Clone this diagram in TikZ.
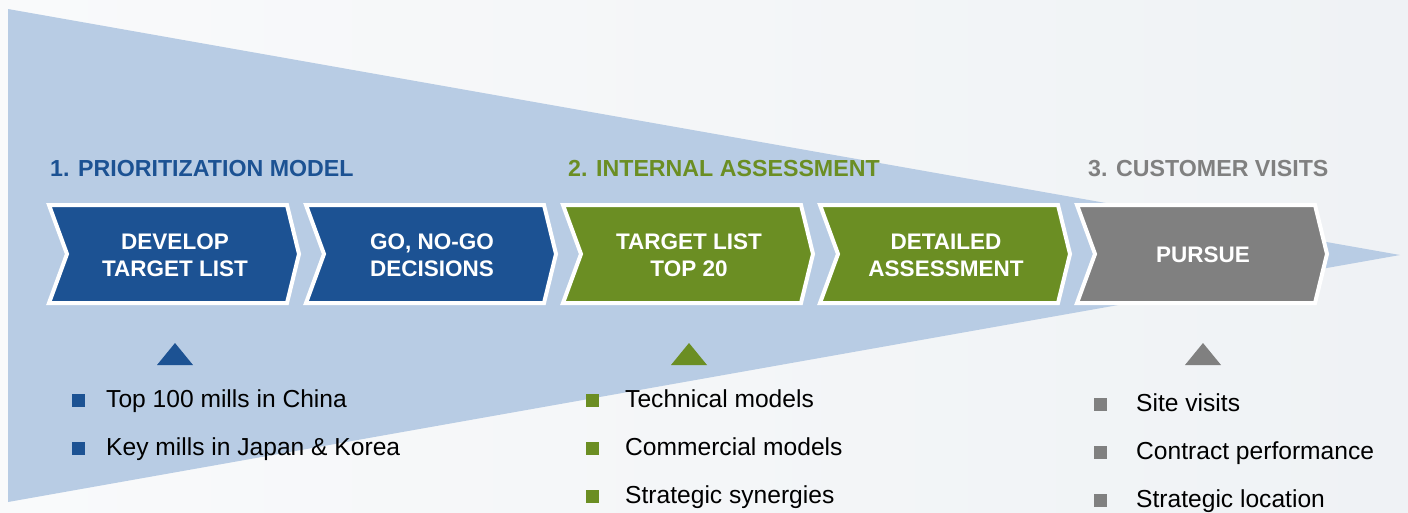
\documentclass[tikz,border=0pt]{standalone}
\usepackage{fontspec}
\setmainfont{Liberation Sans}
\definecolor{bgleft}{HTML}{F9FAFB}
\definecolor{bgright}{HTML}{EFF2F5}
\definecolor{funnelblue}{HTML}{B8CCE4}
\definecolor{stepblue}{HTML}{1C5293}
\definecolor{stepgreen}{HTML}{6B8E23}
\definecolor{stepgray}{HTML}{808080}
\tikzset{
  chevbody/.style={draw=white, line width=4pt, line join=miter},
  chevtext/.style={text=white, align=center, inner sep=0pt,
    font=\fontsize{22.5}{27}\selectfont\bfseries},
  phase/.style={anchor=base west, inner sep=0pt,
    font=\fontsize{23.2}{27}\selectfont\bfseries},
  item/.style={anchor=base west, inner sep=0pt, text=black,
    font=\fontsize{24.6}{28}\selectfont},
}
% chevron: left x, fill colour, node name, label
\newcommand\chevron[4]{%
  \fill[#2, chevbody] (#1+2,205) -- (#1+240,205) -- (#1+252,254) -- (#1+240,303)
    -- (#1+2,303) -- (#1+20,254) -- cycle;
  \node[chevtext] (#3) at (#1+128,255) {#4};
}
% pointer triangle centred at x
\newcommand\pointer[2]{%
  \fill[#2] (#1-18,365) -- (#1,343) -- (#1+18,365) -- cycle;
}
% bullet item: square x, text x, baseline, colour, name, text
\newcommand\bulletitem[6]{%
  \fill[#4] (#1,#3-13) rectangle (#1+13,#3);
  \node[item] (#5) at (#2,#3) {#6};
}
\begin{document}
\begin{tikzpicture}[x=1pt,y=-1pt]
  \useasboundingbox (0,0) rectangle (1408,512);
  % background and funnel
  \shade[left color=bgleft, right color=bgright] (0,0) rectangle (1408,512);
  \fill[funnelblue] (8,9) -- (1400,255) -- (8,502) -- cycle;

  % phase headings
  \node[phase, text=stepblue] (h1) at (50,176) {1. PRIORITIZATION MODEL};
  \node[phase, text=stepgreen] (h2) at (568,176) {2. INTERNAL ASSESSMENT};
  \node[phase, text=stepgray] (h3) at (1088,176) {3. CUSTOMER VISITS};

  % process chevrons
  \chevron{47}{stepblue}{s1}{DEVELOP\\TARGET LIST}
  \chevron{304}{stepblue}{s2}{GO, NO-GO\\DECISIONS}
  \chevron{561}{stepgreen}{s3}{TARGET LIST\\TOP 20}
  \chevron{818}{stepgreen}{s4}{DETAILED\\ASSESSMENT}
  \chevron{1075}{stepgray}{s5}{PURSUE}

  % pointers
  \pointer{175}{stepblue}
  \pointer{689}{stepgreen}
  \pointer{1203}{stepgray}

  % detail lists
  \bulletitem{72}{106}{407}{stepblue}{a1}{Top 100 mills in China}
  \bulletitem{72}{106}{455}{stepblue}{a2}{Key mills in Japan \& Korea}

  \bulletitem{586}{625}{407}{stepgreen}{b1}{Technical models}
  \bulletitem{586}{625}{455}{stepgreen}{b2}{Commercial models}
  \bulletitem{586}{625}{503}{stepgreen}{b3}{Strategic synergies}

  \bulletitem{1094}{1136}{411}{stepgray}{c1}{Site visits}
  \bulletitem{1094}{1136}{459}{stepgray}{c2}{Contract performance}
  \bulletitem{1094}{1136}{507}{stepgray}{c3}{Strategic location}
\end{tikzpicture}
\end{document}
